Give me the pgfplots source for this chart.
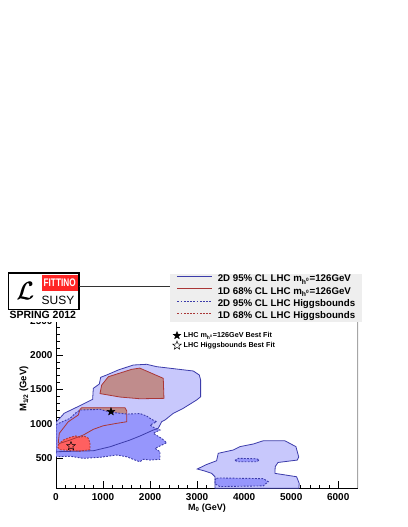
\documentclass[border=0pt]{standalone}
\usepackage{fontspec}
\setmainfont{Liberation Sans}
\usepackage{pgfplots}
\pgfplotsset{compat=1.18}

\definecolor{lblue}{RGB}{200,200,252}
\definecolor{dblue}{RGB}{150,150,252}
\definecolor{brn}{RGB}{192,140,140}
\definecolor{rfill}{RGB}{255,96,96}
\definecolor{bline}{RGB}{60,60,170}
\definecolor{rline}{RGB}{170,55,55}
\definecolor{legbg}{RGB}{238,238,238}

% five-pointed star marks
\def\starpath{%
  \pgfpathmoveto{\pgfpointpolar{90}{\pgfplotmarksize}}%
  \pgfpathlineto{\pgfpointpolar{126}{0.42\pgfplotmarksize}}%
  \pgfpathlineto{\pgfpointpolar{162}{\pgfplotmarksize}}%
  \pgfpathlineto{\pgfpointpolar{198}{0.42\pgfplotmarksize}}%
  \pgfpathlineto{\pgfpointpolar{234}{\pgfplotmarksize}}%
  \pgfpathlineto{\pgfpointpolar{270}{0.42\pgfplotmarksize}}%
  \pgfpathlineto{\pgfpointpolar{306}{\pgfplotmarksize}}%
  \pgfpathlineto{\pgfpointpolar{342}{0.42\pgfplotmarksize}}%
  \pgfpathlineto{\pgfpointpolar{18}{\pgfplotmarksize}}%
  \pgfpathlineto{\pgfpointpolar{54}{0.42\pgfplotmarksize}}%
  \pgfpathclose}
\pgfdeclareplotmark{fstar}{\starpath\pgfusepathqfillstroke}
\pgfdeclareplotmark{ostar}{\starpath\pgfusepathqstroke}

% contours (M0, M1/2)
\def\shapeA{(0,585) (0,1023) (142,1129) (170,1153) (510,1265) (779,1357) (793,1516) (921,1579) (949,1676) (1077,1710) (1325,1783) (1643,1855) (1927,1865) (2139,1831) (2919,1768) (3046,1710) (3075,1637) (3075,1394) (2990,1347) (2705,1226) (2493,1153) (2316,1056) (2245,1031) (2174,936) (2068,911) (1785,824) (1573,766) (1148,668) (793,610) (15,596)}
\def\shapeB{(3003,345) (3200,410) (3414,465) (3449,573) (3627,600) (3768,621) (3910,670) (4193,708) (4405,755) (4866,755) (5100,670) (5160,520) (5130,475) (4720,440) (4660,380) (4654,282) (5115,233) (5170,137) (5165,66) (3379,66) (3379,233) (3308,282) (3150,318)}
\def\shapeC{(0,990) (298,1081) (420,1160) (510,1201) (935,1211) (1148,1170) (1502,1143) (1785,1150) (1927,1114) (2033,1066) (2139,1031) (1998,984) (2104,936) (2210,911) (2068,863) (2245,790) (2352,727) (2210,679) (2104,645) (2210,596) (2210,486) (1998,475) (1856,486) (1785,451) (1700,470) (1643,485) (1502,523) (1290,548) (1100,530) (935,515) (580,500) (300,530) (15,523) (0,530)}
\def\shapeDa{(935,1440) (971,1564) (1113,1685) (1609,1792) (1780,1810) (2280,1662) (2295,1371) (1785,1365) (1360,1390)}
\def\shapeDb{(49,727) (70,863) (261,1031) (474,1129) (510,1211) (546,1235) (1466,1235) (1502,1191) (1502,1031) (1290,1008) (1005,973) (793,921) (580,838) (298,766) (85,718)}
\def\shapeE{(50,700) (155,766) (300,805) (420,825) (510,805) (600,823) (690,790) (722,718) (722,625) (510,605) (300,615) (85,625) (40,660)}
\def\shapeFa{(3804,470) (3874,500) (4265,494) (4320,475) (4265,451) (3874,451)}
\def\shapeFb{(3414,210) (3485,215) (4406,205) (4512,161) (4406,100) (3485,90) (3379,130) (3379,190)}

\begin{document}
\begin{tikzpicture}
\useasboundingbox (0pt,0pt) rectangle (407pt,527pt);
\begin{axis}[
    at={(56pt,38.7pt)}, anchor=south west,
    scale only axis, width=302pt, height=169.1pt,
    xmin=0, xmax=6420, ymin=65, ymax=2520,
    axis lines=left, axis line style={-, black, line width=0.8pt},
    tick align=inside,
    xtick={0,1000,...,6000}, ytick={500,1000,...,2500},
    minor tick num=4,
    major tick length=7pt, minor tick length=3.5pt,
    tick style={black, line width=0.6pt},
    scaled ticks=false,
    /pgf/number format/1000 sep={},
    /pgf/number format/assume math mode=true,
    ticklabel style={font=\bfseries\fontsize{10}{12}\selectfont},
    xticklabel style={yshift=-1.5pt},
    xlabel={M\textsubscript{0} (GeV)},
    ylabel={M\textsubscript{1/2} (GeV)},
    every axis x label/.style={at={(axis description cs:0.5,-0.118)}, anchor=center, font=\bfseries\fontsize{9}{10}\selectfont},
    every axis y label/.style={at={(axis description cs:-0.106,0.587)}, rotate=90, anchor=center, font=\bfseries\fontsize{9.5}{10}\selectfont},
    legend image code/.code={\draw[#1] (0pt,3pt) -- (35pt,3pt); \path (0pt,0pt) (40pt,0pt);},
    legend style={at={(axis description cs:0.3775,1.2714)}, anchor=north west,
        fill=legbg, draw=none, inner xsep=6.7pt, inner ysep=1.2pt, row sep=3.4pt,
        font=\bfseries\fontsize{9.7}{11}\selectfont,
        nodes={inner sep=0pt, text height=7pt, text depth=2pt}},
    legend cell align=left,
]
% fills
\addplot[fill=lblue, draw=none, forget plot] coordinates {\shapeA} --cycle;
\addplot[fill=lblue, draw=none, forget plot] coordinates {\shapeB} --cycle;
\addplot[fill=brn, draw=none, forget plot] coordinates {\shapeDa} --cycle;
\addplot[fill=brn, draw=none, forget plot] coordinates {\shapeDb} --cycle;
\addplot[fill=dblue, draw=none, forget plot] coordinates {\shapeC} --cycle;
\addplot[fill=dblue, draw=none, forget plot] coordinates {\shapeFa} --cycle;
\addplot[fill=dblue, draw=none, forget plot] coordinates {\shapeFb} --cycle;
\addplot[fill=rfill, draw=none, forget plot] coordinates {\shapeE} --cycle;
% outlines
\addplot[color=bline, line width=0.8pt] coordinates {\shapeA} --cycle;
\addlegendentry{2D 95\% CL LHC m\textsubscript{h\textsuperscript{0}}=126GeV}
\addplot[color=bline, line width=0.8pt, forget plot] coordinates {\shapeB} --cycle;
\addplot[color=rline, line width=0.8pt] coordinates {\shapeDa} --cycle;
\addlegendentry{1D 68\% CL LHC m\textsubscript{h\textsuperscript{0}}=126GeV}
\addplot[color=rline, line width=0.8pt, forget plot] coordinates {\shapeDb} --cycle;
\addplot[color=bline, line width=0.9pt, dash pattern=on 1.8pt off 1.4pt] coordinates {\shapeC} --cycle;
\addlegendentry{2D 95\% CL LHC Higgsbounds}
\addplot[color=bline, line width=0.9pt, dash pattern=on 1.8pt off 1.4pt, forget plot] coordinates {\shapeFa} --cycle;
\addplot[color=bline, line width=0.9pt, dash pattern=on 1.8pt off 1.4pt, forget plot] coordinates {\shapeFb} --cycle;
\addplot[color=rline, line width=0.9pt, dash pattern=on 1.8pt off 1.4pt] coordinates {\shapeE} --cycle;
\addlegendentry{1D 68\% CL LHC Higgsbounds}
\draw[gray!70, line width=1.3pt] (rel axis cs:1,0) -- (rel axis cs:1,1);
\end{axis}

% best fit points, with their own legend
\begin{axis}[
    at={(56pt,38.7pt)}, anchor=south west,
    scale only axis, width=302pt, height=169.1pt,
    xmin=0, xmax=6420, ymin=65, ymax=2520,
    hide axis,
    legend image code/.code={\draw[#1] plot coordinates {(4pt,0pt)}; \path (0pt,0pt) (10.5pt,0pt);},
    legend style={at={(axis description cs:0.3858,0.9284)}, anchor=north west,
        fill=none, draw=none, inner sep=0pt, row sep=2pt,
        font=\bfseries\fontsize{7.2}{8}\selectfont,
        nodes={inner sep=0pt, text height=5.5pt, text depth=1.5pt}},
    legend cell align=left,
]
\addplot[only marks, mark=fstar, mark size=4pt, black] coordinates {(1169,1178)};
\addlegendentry{LHC m\textsubscript{h\textsuperscript{0}}=126GeV Best Fit}
\addplot[only marks, mark=ostar, mark size=4.5pt, black, line width=0.5pt] coordinates {(319,679)};
\addlegendentry{LHC Higgsbounds Best Fit}
\end{axis}

% Fittino logo
\fill[white] (8pt,205.3pt) rectangle (79.5pt,254pt);
\draw[black, line width=1.3pt, fill=white] (8.3pt,217.3pt) rectangle (79pt,254pt);
\fill[red!85!white] (41.7pt,235.7pt) rectangle (77.7pt,252.3pt);
\node[white, font=\bfseries\fontsize{11}{11}\selectfont, xscale=0.75] at (59.7pt,244pt) {FITTINO};
\node[font=\fontsize{12}{12}\selectfont] at (58pt,226.5pt) {SUSY};
\node[font=\fontsize{38}{38}\selectfont] at (25pt,236pt) {$\mathcal{L}$};
\node[font=\fontsize{38}{38}\selectfont] at (25.6pt,236pt) {$\mathcal{L}$};
\node[font=\bfseries\fontsize{10.5}{11}\selectfont] at (42.8pt,212.6pt) {SPRING 2012};
\draw[gray!40!black, line width=0.7pt] (79pt,241pt) -- (170pt,241pt);
\end{tikzpicture}
\end{document}
